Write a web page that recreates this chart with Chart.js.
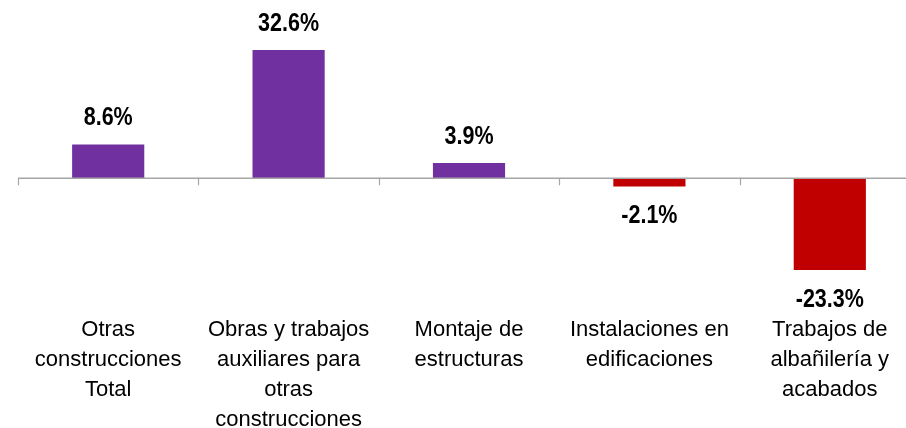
<!DOCTYPE html>
<html>
<head>
<meta charset="utf-8">
<script src="https://cdn.jsdelivr.net/npm/chart.js@4"></script>
<style>
  html, body { margin: 0; padding: 0; background: #fff; overflow: hidden; }
  #contenedor { position: relative; width: 920px; height: 443px; }
</style>
</head>
<body>
<div id="contenedor"><canvas id="grafico"></canvas></div>
<script>
// Datos
const categorias = [
  ["Otras", "construcciones", "Total"],
  ["Obras y trabajos", "auxiliares para", "otras", "construcciones"],
  ["Montaje de", "estructuras"],
  ["Instalaciones en", "edificaciones"],
  ["Trabajos de", "albañilería y", "acabados"]
];
const variacion = [8.6, 32.6, 3.9, -2.1, -23.3];

const yMax = 45.3;
const yMin = -32.7;

const morado = "#7030A0";
const rojo = "#C00000";
const gris = "#A6A6A6";
const fuente = "'Liberation Sans', Arial, sans-serif";

// Línea del cero, marcas entre categorías y etiquetas de valor
const extras = {
  id: "extras",
  afterDatasetsDraw(chart) {
    const { ctx, chartArea, scales } = chart;
    const x = scales.x, y = scales.y;
    const y0 = y.getPixelForValue(0);
    const paso = (x.getPixelForValue(1) - x.getPixelForValue(0));

    ctx.save();
    ctx.strokeStyle = gris;
    ctx.lineWidth = 1.6;
    ctx.beginPath();
    ctx.moveTo(chartArea.left, y0);
    ctx.lineTo(chartArea.right, y0);
    ctx.stroke();

    ctx.lineWidth = 1.2;
    for (let i = 0; i <= categorias.length; i++) {
      const px = Math.round(x.getPixelForValue(0) - paso / 2 + i * paso) + 0.5;
      ctx.beginPath();
      ctx.moveTo(px, y0);
      ctx.lineTo(px, y0 + 7);
      ctx.stroke();
    }

    // texto en negrita algo estrecho, como en el original
    ctx.fillStyle = "#000";
    ctx.font = "bold 25px " + fuente;
    ctx.textAlign = "center";
    ctx.textBaseline = "middle";
    chart.getDatasetMeta(0).data.forEach((barra, i) => {
      const v = variacion[i];
      const ty = v >= 0 ? barra.y - 26 : barra.y + 30;
      ctx.save();
      ctx.translate(barra.x, ty);
      ctx.scale(0.86, 1);
      ctx.fillText(v.toFixed(1) + "%", 0, 0);
      ctx.restore();
    });
    ctx.restore();
  }
};

new Chart(document.getElementById("grafico"), {
  type: "bar",
  data: {
    labels: categorias,
    datasets: [{
      data: variacion,
      backgroundColor: (c) => (c.raw >= 0 ? morado : rojo),
      borderWidth: 0,
      categoryPercentage: 1,
      barPercentage: 0.4
    }]
  },
  options: {
    responsive: true,
    maintainAspectRatio: false,
    animation: false,
    layout: { padding: { left: 18, right: 0, top: 0, bottom: 0 } },
    plugins: {
      legend: { display: false },
      tooltip: { enabled: false }
    },
    scales: {
      x: {
        grid: { display: false, drawTicks: false },
        border: { display: false },
        ticks: {
          color: "#000",
          padding: 8,
          maxRotation: 0,
          autoSkip: false,
          font: { family: fuente, size: 22, lineHeight: 30 / 22 }
        }
      },
      y: {
        display: false,
        min: yMin,
        max: yMax
      }
    }
  },
  plugins: [extras]
});
</script>
</body>
</html>
